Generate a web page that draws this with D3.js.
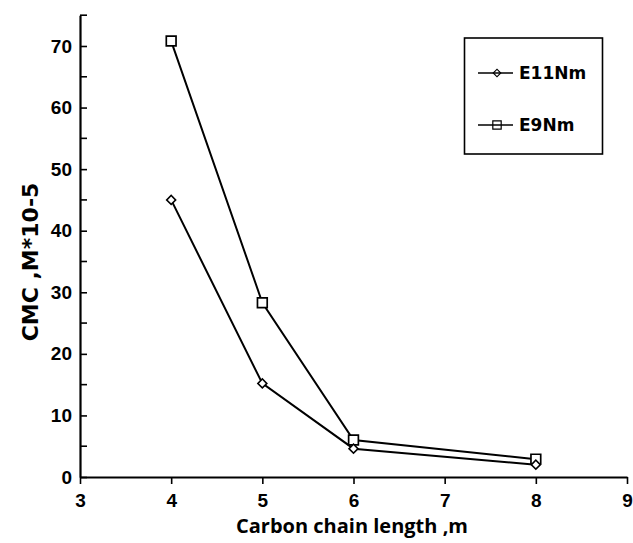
<!DOCTYPE html>
<html><head><meta charset="utf-8">
<script src="https://cdn.jsdelivr.net/npm/d3@7"></script>
<style>body{margin:0;background:#fff}</style>
</head><body>
<svg id="c" width="633" height="543"></svg>
<script>
const chainLength = [4, 5, 6, 8];
const e11Nm = [45, 15.2, 4.6, 2.0];
const e9Nm = [70.8, 28.3, 6.0, 2.9];
const seriesNames = ["E11Nm", "E9Nm"];
const xTicks = [3, 4, 5, 6, 7, 8, 9];
const yTicks = [0, 10, 20, 30, 40, 50, 60, 70];
const yMinorTicks = [5, 15, 25, 35, 45, 55, 65, 75];

const svg = d3.select("#c");
const x = d3.scaleLinear().domain([3, 9]).range([80, 627]);
const y = d3.scaleLinear().domain([0, 75]).range([477, 15.2]);

const tickFont = "Liberation Sans, Arial, sans-serif";
const wideFont = "DejaVu Sans, Verdana, sans-serif";

// X axis
const xAxis = svg.append("g").attr("transform", `translate(0,${y(0)})`)
  .call(d3.axisBottom(x).tickValues(xTicks).tickSize(7).tickSizeOuter(0).tickPadding(10).tickFormat(d3.format("d")));
xAxis.select(".domain").attr("stroke", "#000").attr("stroke-width", 2.2);
xAxis.selectAll(".tick line").attr("stroke", "#000").attr("stroke-width", 1.6);
xAxis.selectAll("text").attr("font-family", tickFont).attr("font-weight", "bold")
  .attr("font-size", 19).attr("fill", "#000");

// Y axis
const yAxis = svg.append("g").attr("transform", `translate(${x(3)},0)`)
  .call(d3.axisLeft(y).tickValues(yTicks).tickSize(-7).tickSizeOuter(0).tickPadding(8).tickFormat(d3.format("d")));
yAxis.select(".domain").attr("stroke", "#000").attr("stroke-width", 2.2);
yAxis.selectAll(".tick line").attr("stroke", "#000").attr("stroke-width", 1.6);
yAxis.selectAll("text").attr("font-family", tickFont).attr("font-weight", "bold")
  .attr("font-size", 19).attr("fill", "#000");
svg.append("g").selectAll("line").data(yMinorTicks).join("line")
  .attr("x1", x(3)).attr("x2", x(3) + 7).attr("y1", d => y(d)).attr("y2", d => y(d))
  .attr("stroke", "#000").attr("stroke-width", 1.6);

// Axis titles
svg.append("text").attr("x", 352).attr("y", 533).attr("text-anchor", "middle")
  .attr("font-family", "Open Sans, sans-serif").attr("font-weight", "bold").attr("font-size", 20)
  .text("Carbon chain length ,m");
svg.append("text").attr("transform", `translate(38,262) rotate(-90)`).attr("text-anchor", "middle")
  .attr("font-family", wideFont).attr("font-weight", "bold").attr("font-size", 22)
  .text("CMC ,M*10-5");

const line = d3.line().x(d => x(d[0])).y(d => y(d[1]));
const s1 = chainLength.map((c, i) => [c, e11Nm[i]]);
const s2 = chainLength.map((c, i) => [c, e9Nm[i]]);

svg.append("path").datum(s2).attr("d", line).attr("fill", "none").attr("stroke", "#000").attr("stroke-width", 2);
svg.append("path").datum(s1).attr("d", line).attr("fill", "none").attr("stroke", "#000").attr("stroke-width", 2);

const square = d3.symbol().type(d3.symbolSquare).size(95);
const diamond = d3.symbol().type(d3.symbolSquare).size(40);

svg.append("g").selectAll("path").data(s2).join("path")
  .attr("transform", d => `translate(${x(d[0])},${y(d[1])})`)
  .attr("d", square).attr("fill", "#fff").attr("stroke", "#000").attr("stroke-width", 1.7);
svg.append("g").selectAll("path").data(s1).join("path")
  .attr("transform", d => `translate(${x(d[0])},${y(d[1])}) rotate(45)`)
  .attr("d", diamond).attr("fill", "#fff").attr("stroke", "#000").attr("stroke-width", 1.6);

// Legend
const lg = svg.append("g");
lg.append("rect").attr("x", 464.5).attr("y", 38).attr("width", 138).attr("height", 116)
  .attr("fill", "#fff").attr("stroke", "#000").attr("stroke-width", 1.6);
const legendItems = [
  {name: seriesNames[0], sym: d3.symbol().type(d3.symbolSquare).size(28), rot: 45, cy: 73},
  {name: seriesNames[1], sym: d3.symbol().type(d3.symbolSquare).size(70), rot: 0, cy: 125}
];
legendItems.forEach(it => {
  lg.append("line").attr("x1", 478).attr("x2", 513).attr("y1", it.cy).attr("y2", it.cy)
    .attr("stroke", "#000").attr("stroke-width", 1.5);
  lg.append("path").attr("transform", `translate(497,${it.cy}) rotate(${it.rot})`).attr("d", it.sym)
    .attr("fill", "none").attr("stroke", "#000").attr("stroke-width", 1.2);
  lg.append("text").attr("x", 519).attr("y", it.cy + 6)
    .attr("font-family", wideFont).attr("font-weight", "bold").attr("font-size", 17)
    .text(it.name);
});
</script>
</body></html>
